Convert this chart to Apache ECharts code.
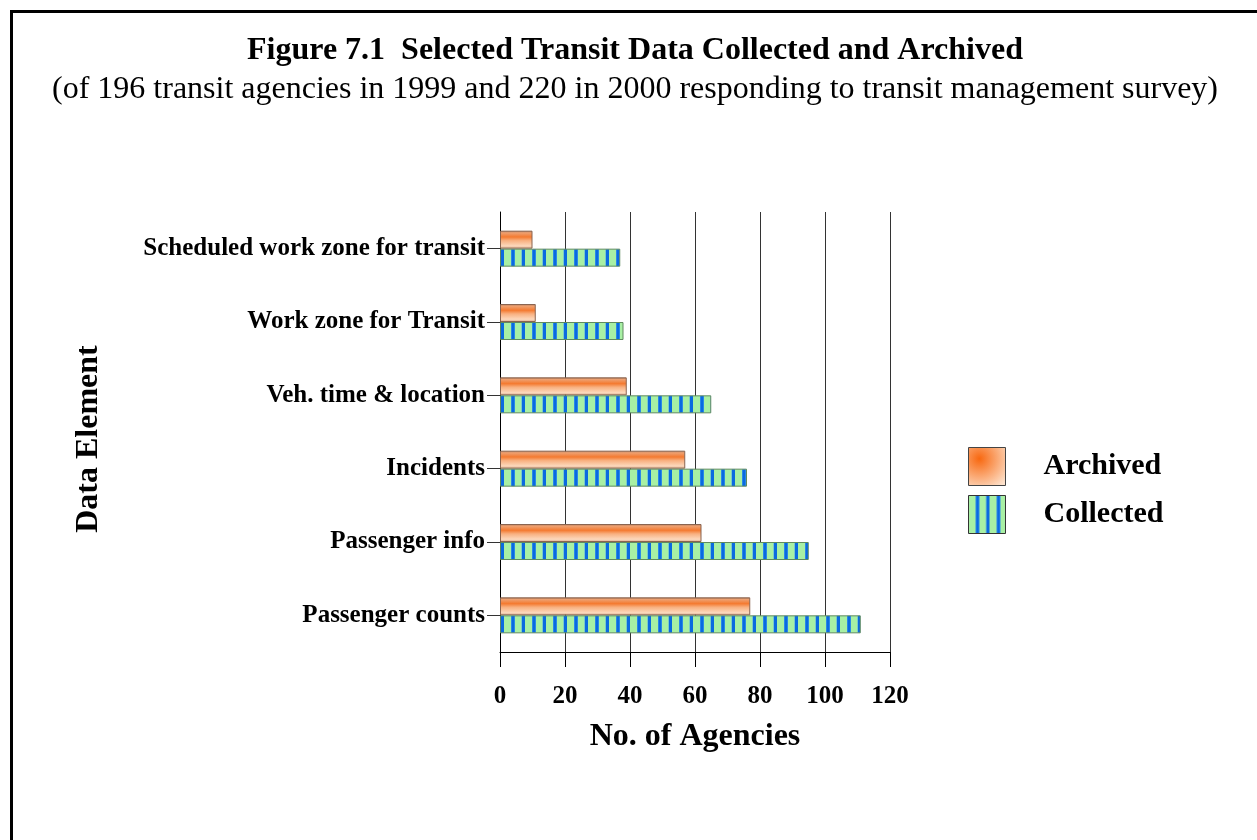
<!DOCTYPE html>
<html>
<head>
<meta charset="utf-8">
<script src="https://cdn.jsdelivr.net/npm/echarts@6/dist/echarts.min.js"></script>
<style>
html, body { margin: 0; padding: 0; background: #fff; }
#chart { width: 1257px; height: 840px; }
</style>
</head>
<body>
<div id="chart"></div>
<script>
// categories bottom -> top
const categories = [
  "Passenger counts",
  "Passenger info",
  "Incidents",
  "Veh. time & location",
  "Work zone for Transit",
  "Scheduled work zone for transit",
];
const archived = [77, 62, 57, 39, 11, 10];
const collected = [111, 95, 76, 65, 38, 37];
const xMin = 0;
const xMax = 120;
const xStep = 20;

const serif = "Liberation Serif";

// green with blue vertical stripes
function stripeCanvas() {
  let c = document.createElement("canvas");
  c.width = 21;
  c.height = 4;
  let ctx = c.getContext("2d");
  ctx.fillStyle = "#a8f0a4";
  ctx.fillRect(0, 0, 21, 4);
  ctx.fillStyle = "#4aa6f0";
  ctx.fillRect(7, 0, 4, 4);
  ctx.fillRect(17.5, 0, 4, 4);
  ctx.fillStyle = "#0a6ae0";
  ctx.fillRect(7.5, 0, 3, 4);
  ctx.fillRect(18, 0, 3, 4);
  return c;
}

let chartDom = document.getElementById("chart");
let myChart = echarts.init(chartDom);

let archivedColor = {
  type: "linear", x: 0, y: 0, x2: 0, y2: 1,
  colorStops: [
    { offset: 0, color: "#a87456" },
    { offset: 0.12, color: "#eea070" },
    { offset: 0.35, color: "#f47a30" },
    { offset: 0.55, color: "#f8b080" },
    { offset: 0.85, color: "#fcd8bc" },
    { offset: 1, color: "#d8a888" },
  ],
};

let option = {
  animation: false,
  backgroundColor: "#fff",
  graphic: [
    {
      type: "rect",
      z: -10,
      shape: { x: 11.5, y: 11.5, width: 1400, height: 1000 },
      style: { fill: null, stroke: "#000", lineWidth: 3 },
    },
  ],
  title: [
    {
      text: "Figure 7.1  Selected Transit Data Collected and Archived",
      left: 630,
      top: 30,
      textAlign: "center",
      textStyle: { fontFamily: serif, fontWeight: "bold", fontSize: 32, color: "#000" },
    },
    {
      text: "(of 196 transit agencies in 1999 and 220 in 2000 responding to transit management survey)",
      left: 630,
      top: 69,
      textAlign: "center",
      textStyle: { fontFamily: serif, fontWeight: "normal", fontSize: 32, color: "#000" },
    },
  ],
  legend: {
    orient: "vertical",
    left: 963,
    top: 442,
    itemWidth: 37,
    itemHeight: 38,
    itemGap: 9,
    selectedMode: false,
    textStyle: {
      fontFamily: serif,
      fontWeight: "bold",
      fontSize: 30,
      color: "#000",
      padding: [0, 0, 0, 33],
    },
    data: [
      {
        name: "Archived",
        icon: "rect",
        itemStyle: {
          color: {
            type: "radial", x: 0.3, y: 0.3, r: 0.9,
            colorStops: [
              { offset: 0, color: "#f86810" },
              { offset: 1, color: "#fde2cc" },
            ],
          },
          borderColor: "#444",
          borderWidth: 1,
        },
      },
      {
        name: "Collected",
        icon: "rect",
        itemStyle: { borderColor: "#333", borderWidth: 1 },
      },
    ],
  },
  grid: {
    left: 500,
    top: 212,
    right: 367,
    bottom: 188,
    containLabel: false,
  },
  xAxis: {
    type: "value",
    min: xMin,
    max: xMax,
    interval: xStep,
    name: "No. of Agencies",
    nameLocation: "middle",
    nameGap: 69,
    nameTextStyle: { fontFamily: serif, fontWeight: "bold", fontSize: 32, color: "#000" },
    axisLine: { show: true, lineStyle: { color: "#000", width: 1 } },
    axisTick: { show: true, length: 15, lineStyle: { color: "#000" } },
    axisLabel: {
      margin: 32,
      fontFamily: serif,
      fontWeight: "bold",
      fontSize: 25,
      color: "#000",
    },
    splitLine: { show: true, lineStyle: { color: "#333", width: 1 } },
  },
  yAxis: {
    type: "category",
    data: categories,
    name: "Data Element",
    nameLocation: "middle",
    nameGap: 395,
    nameRotate: 90,
    nameTextStyle: {
      fontFamily: serif,
      fontWeight: "bold",
      fontSize: 32,
      color: "#000",
      padding: [0, 14, 0, 0],
    },
    axisLine: { show: true, lineStyle: { color: "#000", width: 1 } },
    axisTick: { show: true, alignWithLabel: true, length: 13, lineStyle: { color: "#333" } },
    axisLabel: {
      margin: 15,
      fontFamily: serif,
      fontWeight: "bold",
      fontSize: 25,
      color: "#000",
    },
  },
  series: [
    {
      name: "Archived",
      type: "bar",
      barWidth: 18,
      barGap: "0%",
      data: archived,
      itemStyle: {
        color: archivedColor,
        borderColor: "#8a6450",
        borderWidth: 1,
      },
    },
    {
      name: "Collected",
      type: "bar",
      barWidth: 18,
      barGap: "0%",
      data: collected,
      itemStyle: {
        color: { image: stripeCanvas(), repeat: "repeat" },
        borderColor: "#5f8a5f",
        borderWidth: 1,
      },
    },
  ],
};

myChart.setOption(option);
</script>
</body>
</html>
